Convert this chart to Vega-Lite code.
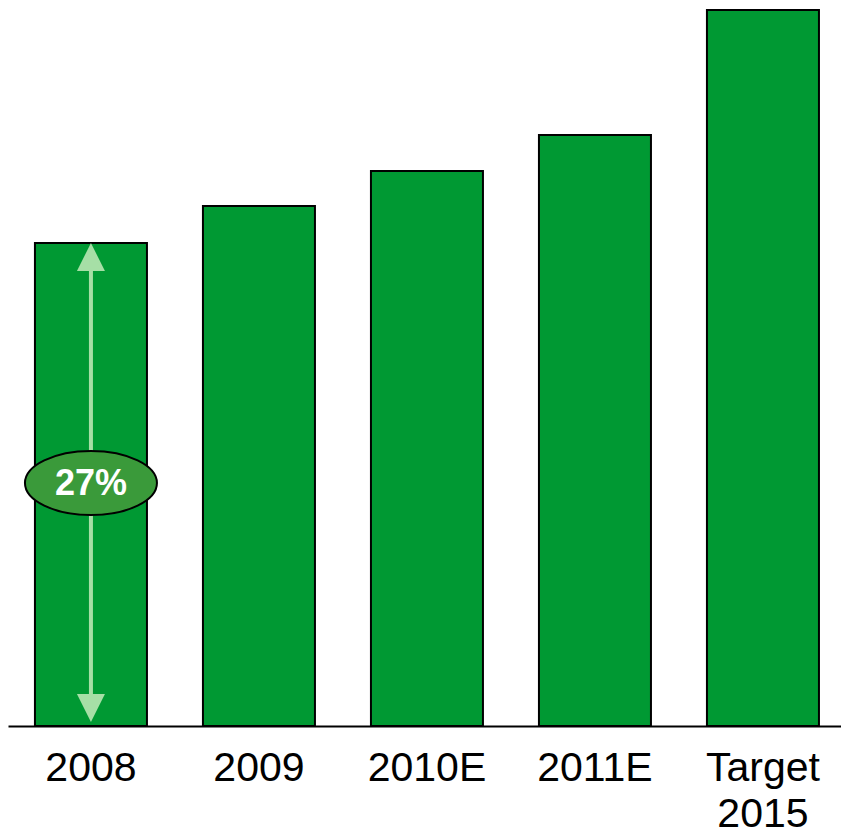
{
  "$schema": "https://vega.github.io/schema/vega-lite/v6.json",
  "width": 833,
  "height": 726,
  "padding": {"left": 8, "top": 0, "right": 0, "bottom": 108},
  "autosize": "none",
  "background": "white",
  "config": {"view": {"stroke": null}, "font": "Liberation Sans"},
  "datasets": {
    "bars": [
      {"cat": "2008", "value": 483},
      {"cat": "2009", "value": 520},
      {"cat": "2010E", "value": 555},
      {"cat": "2011E", "value": 591},
      {"cat": "Target 2015", "value": 716}
    ],
    "arrowLine": [{"cat": "2008", "y1": 18, "y2": 469}],
    "arrowUp": [{"cat": "2008", "y": 469}],
    "arrowDown": [{"cat": "2008", "y": 18}],
    "badge": [{"cat": "2008", "y": 243, "label": "27%"}]
  },
  "encoding": {
    "x": {
      "field": "cat",
      "type": "nominal",
      "sort": null,
      "scale": {"paddingInner": 0.3333, "paddingOuter": 0.1458, "align": 0.55, "domain": ["2008", "2009", "2010E", "2011E", "Target 2015"]},
      "axis": {
        "title": null,
        "labelAngle": 0,
        "ticks": false,
        "tickSize": 0,
        "labelPadding": 22,
        "labelFontSize": 41,
        "labelColor": "black",
        "labelFont": "Liberation Sans",
        "labelLineHeight": 46,
        "labelExpr": "datum.label == 'Target 2015' ? ['Target', '2015'] : datum.label",
        "domainColor": "black",
        "domainWidth": 2
      }
    }
  },
  "layer": [
    {
      "data": {"name": "bars"},
      "mark": {"type": "bar", "color": "#009933", "stroke": "black", "strokeWidth": 2},
      "encoding": {
        "y": {"field": "value", "type": "quantitative", "scale": {"domain": [0, 726], "nice": false}, "axis": null}
      }
    },
    {
      "data": {"name": "arrowLine"},
      "mark": {"type": "rule", "color": "#A6DFA6", "strokeWidth": 4},
      "encoding": {
        "y": {"field": "y1", "type": "quantitative"},
        "y2": {"field": "y2"}
      }
    },
    {
      "data": {"name": "arrowUp"},
      "mark": {"type": "point", "shape": "M0,-1 L1,1 L-1,1 Z", "filled": true, "color": "#A6DFA6", "opacity": 1, "size": 784},
      "encoding": {"y": {"field": "y", "type": "quantitative"}}
    },
    {
      "data": {"name": "arrowDown"},
      "mark": {"type": "point", "shape": "M0,1 L1,-1 L-1,-1 Z", "filled": true, "color": "#A6DFA6", "opacity": 1, "size": 784},
      "encoding": {"y": {"field": "y", "type": "quantitative"}}
    },
    {
      "data": {"name": "badge"},
      "mark": {"type": "point", "shape": "M-1,0 A1,0.485 0 1,1 1,0 A1,0.485 0 1,1 -1,0 Z", "filled": true, "fill": "#3A9A3A", "stroke": "black", "strokeWidth": 2, "opacity": 1, "size": 17424},
      "encoding": {"y": {"field": "y", "type": "quantitative"}}
    },
    {
      "data": {"name": "badge"},
      "mark": {"type": "text", "color": "white", "fontWeight": "bold", "fontSize": 36, "font": "Liberation Sans", "baseline": "middle", "align": "center", "dy": 1},
      "encoding": {"y": {"field": "y", "type": "quantitative"}, "text": {"field": "label"}}
    }
  ]
}
